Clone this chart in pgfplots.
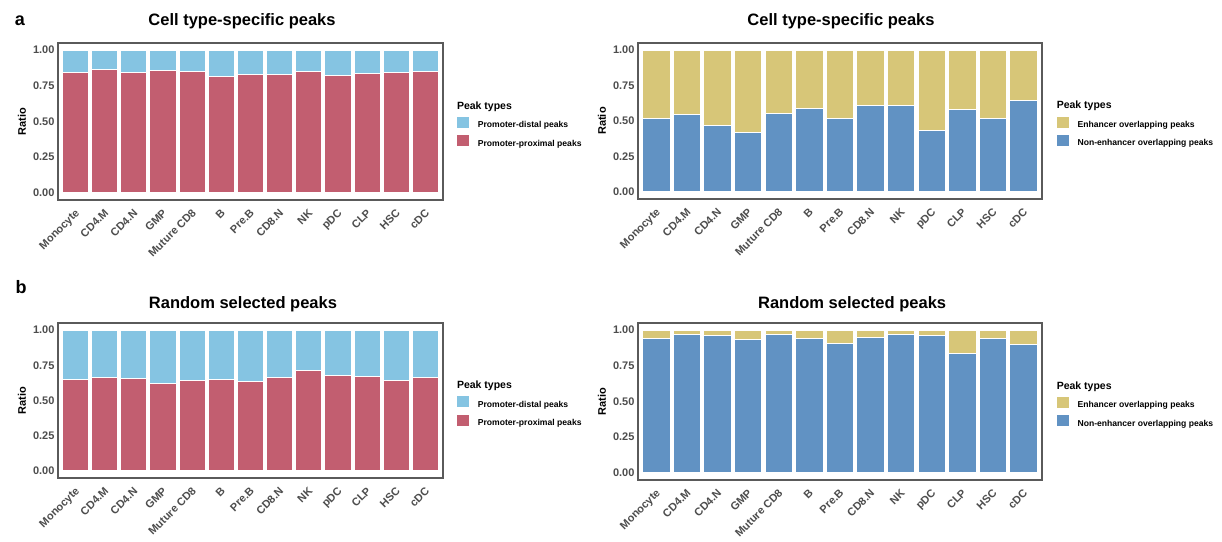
\documentclass[border=0pt]{standalone}
\usepackage{fontspec}
\setmainfont{Liberation Sans}
\usepackage{pgfplots}
\pgfplotsset{compat=1.18}
\usepackage{pgfplotstable}

\definecolor{distal}{HTML}{85C4E2}
\definecolor{proximal}{HTML}{C25E70}
\definecolor{enh}{HTML}{D7C678}
\definecolor{nonenh}{HTML}{6192C3}
\definecolor{framegray}{HTML}{5A5A5A}
\definecolor{tickgray}{HTML}{4D4D4D}

% Cell type-specific peaks: promoter-proximal / promoter-distal ratio
\pgfplotstableread{
idx prox dist
1  0.846 0.154
2  0.863 0.137
3  0.842 0.158
4  0.858 0.142
5  0.849 0.151
6  0.818 0.182
7  0.832 0.168
8  0.832 0.168
9  0.849 0.151
10 0.825 0.175
11 0.837 0.163
12 0.844 0.156
13 0.851 0.149
}\specprom

% Cell type-specific peaks: non-enhancer / enhancer overlapping ratio
\pgfplotstableread{
idx nonenh enh
1  0.518 0.482
2  0.548 0.452
3  0.468 0.532
4  0.421 0.579
5  0.556 0.444
6  0.591 0.409
7  0.515 0.485
8  0.610 0.390
9  0.608 0.392
10 0.435 0.565
11 0.584 0.416
12 0.515 0.485
13 0.643 0.357
}\specenh

% Random selected peaks: promoter-proximal / promoter-distal ratio
\pgfplotstableread{
idx prox dist
1  0.647 0.353
2  0.664 0.336
3  0.654 0.346
4  0.624 0.376
5  0.640 0.360
6  0.647 0.353
7  0.638 0.362
8  0.666 0.334
9  0.713 0.287
10 0.675 0.325
11 0.671 0.329
12 0.645 0.355
13 0.666 0.334
}\randprom

% Random selected peaks: non-enhancer / enhancer overlapping ratio
\pgfplotstableread{
idx nonenh enh
1  0.943 0.057
2  0.969 0.031
3  0.960 0.040
4  0.934 0.066
5  0.972 0.028
6  0.939 0.061
7  0.906 0.094
8  0.948 0.052
9  0.972 0.028
10 0.960 0.040
11 0.835 0.165
12 0.939 0.061
13 0.899 0.101
}\randenh

\pgfplotsset{
  peakaxis/.style={
    scale only axis,
    ybar stacked,
    bar width=0.9,
    xmin=0.4, xmax=13.6,
    ymin=-0.05, ymax=1.05,
    xtick={1,...,13},
    xticklabels={Monocyte,CD4.M,CD4.N,GMP,Muture CD8,B,Pre.B,CD8.N,NK,pDC,CLP,HSC,cDC},
    ytick={0,0.25,0.5,0.75,1},
    yticklabels={0.00,0.25,0.50,0.75,1.00},
    major tick length=0pt,
    axis line style={draw=framegray, line width=1.2pt},
    tick label style={font=\bfseries\fontsize{11}{13}\selectfont, text=tickgray},
    x tick label style={xshift=-1pt, yshift=-3.5pt, rotate=45, anchor=north east},
    ylabel={Ratio},
    ylabel style={font=\bfseries\fontsize{11}{13}\selectfont, text=black, anchor=center},
    title style={font=\bfseries\fontsize{16.5}{19}\selectfont, anchor=center, yshift=0pt},
    legend cell align=left,
    legend image code/.code={\fill[##1, draw=none] (0pt,-2.5pt) rectangle (12pt,8.5pt);},
    legend style={draw=none, fill=none, inner sep=0pt, outer sep=0pt, row sep=4pt,
      font=\bfseries\fontsize{8.6}{10}\selectfont,
      at={(axis description cs:1.036,0.528)}, anchor=north west,
      /tikz/every odd column/.append style={column sep=7pt}},
    every axis plot/.append style={draw=white, line width=1pt},
  },
}

\newcommand{\legtitle}[1]{%
  \node[anchor=base west, font=\bfseries\fontsize{10.5}{12}\selectfont, inner sep=0pt]
    at ([yshift=8pt]#1.north west) {Peak types};}

\begin{document}
\begin{tikzpicture}
\path[fill=white, use as bounding box] (0pt,0pt) rectangle (1222pt,541pt);

% panel labels
\node[font=\bfseries\fontsize{18}{20}\selectfont] at (20pt,520pt) {a};
\node[font=\bfseries\fontsize{18}{20}\selectfont] at (21pt,254pt) {b};

% a, left
\begin{axis}[peakaxis, at={(58pt,341pt)}, anchor=south west,
    width=385pt, height=157pt,
    title={Cell type-specific peaks},
    title style={at={(axis description cs:0.478,1.102)}},
    ylabel style={at={(axis description cs:-0.0935,0.5)}},
    reverse legend, legend style={name=legA}]
  \addplot[fill=proximal] table[x=idx, y=prox] {\specprom};
  \addplot[fill=distal] table[x=idx, y=dist] {\specprom};
  \legend{Promoter-proximal peaks, Promoter-distal peaks}
\end{axis}
\legtitle{legA}

% a, right
\begin{axis}[peakaxis, at={(638pt,342pt)}, anchor=south west,
    width=404pt, height=156pt,
    title={Cell type-specific peaks},
    title style={at={(axis description cs:0.5025,1.103)}},
    ylabel style={at={(axis description cs:-0.089,0.5)}},
    reverse legend, legend style={name=legB}]
  \addplot[fill=nonenh] table[x=idx, y=nonenh] {\specenh};
  \addplot[fill=enh] table[x=idx, y=enh] {\specenh};
  \legend{Non-enhancer overlapping peaks, Enhancer overlapping peaks}
\end{axis}
\legtitle{legB}

% b, left
\begin{axis}[peakaxis, at={(58pt,63pt)}, anchor=south west,
    width=385pt, height=155pt,
    title={Random selected peaks},
    title style={at={(axis description cs:0.4805,1.083)}},
    ylabel style={at={(axis description cs:-0.0935,0.5)}},
    reverse legend, legend style={name=legC}]
  \addplot[fill=proximal] table[x=idx, y=prox] {\randprom};
  \addplot[fill=distal] table[x=idx, y=dist] {\randprom};
  \legend{Promoter-proximal peaks, Promoter-distal peaks}
\end{axis}
\legtitle{legC}

% b, right
\begin{axis}[peakaxis, at={(638pt,61pt)}, anchor=south west,
    width=404pt, height=157pt,
    title={Random selected peaks},
    title style={at={(axis description cs:0.53,1.083)}},
    ylabel style={at={(axis description cs:-0.089,0.5)}},
    reverse legend, legend style={name=legD}]
  \addplot[fill=nonenh] table[x=idx, y=nonenh] {\randenh};
  \addplot[fill=enh] table[x=idx, y=enh] {\randenh};
  \legend{Non-enhancer overlapping peaks, Enhancer overlapping peaks}
\end{axis}
\legtitle{legD}
\end{tikzpicture}
\end{document}
